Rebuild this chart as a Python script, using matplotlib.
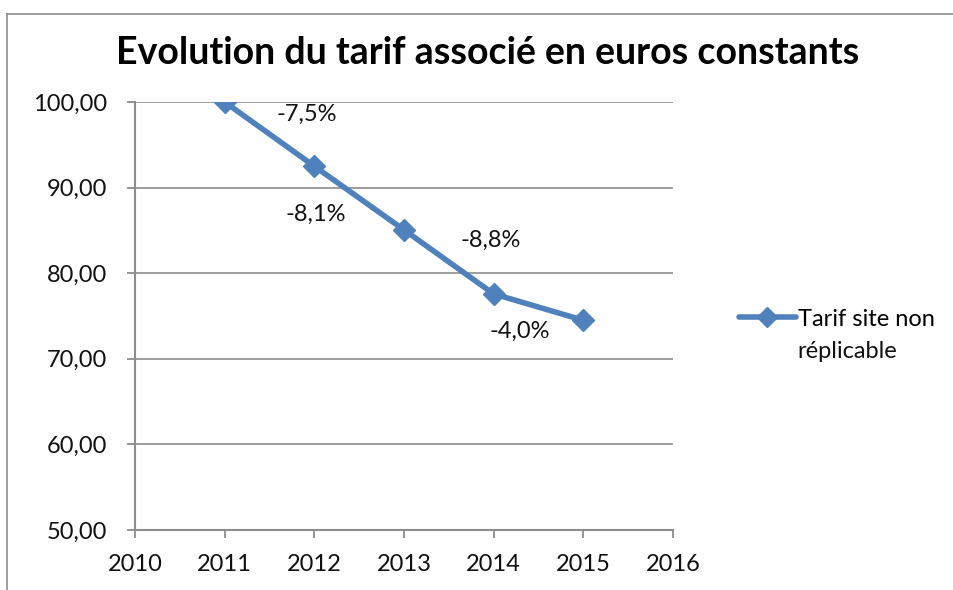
import matplotlib
matplotlib.use("Agg")
import matplotlib.pyplot as plt
from matplotlib.lines import Line2D
from matplotlib.ticker import FuncFormatter

years = [2011, 2012, 2013, 2014, 2015]
values = [100.0, 92.5, 85.06, 77.58, 74.5]
change_labels = ["-7,5%", "-8,1%", "-8,8%", "-4,0%"]
label_x = [2011.92, 2012.02, 2013.97, 2014.29]
label_y = [98.5, 86.9, 83.8, 73.25]
series_name = "Tarif site non réplicable"
title = "Evolution du tarif associé en euros constants"

plt.rcParams['font.family'] = ['Lato', 'DejaVu Sans']

fig = plt.figure(figsize=(9.54, 5.9), dpi=100)
W, H = 954, 590
ax = fig.add_axes([135 / W, 1 - 530 / H, (673 - 135) / W, (530 - 102) / H])

grey = "#8c8c8c"
blue = "#4F81BD"

ax.plot(years, values, color=blue, lw=4, marker="D", markersize=11,
        markerfacecolor=blue, markeredgecolor=blue, label=series_name,
        solid_joinstyle="round", zorder=3)

for t, x, y in zip(change_labels, label_x, label_y):
    ax.text(x, y, t, ha="center", va="center", fontsize=17, color="#111111")

ax.set_xlim(2010, 2016)
ax.set_ylim(50, 100)
ax.set_xticks(range(2010, 2017))
ax.set_yticks(range(50, 101, 10))
ax.yaxis.set_major_formatter(FuncFormatter(lambda v, p: f"{v:.2f}".replace(".", ",")))
ax.grid(axis="y", color=grey, lw=1.2)
ax.set_axisbelow(True)
for s in ["top", "right"]:
    ax.spines[s].set_visible(False)
for s in ["left", "bottom"]:
    ax.spines[s].set_color(grey)
    ax.spines[s].set_linewidth(1.5)
ax.tick_params(axis="both", colors=grey, labelcolor="#111111", labelsize=17,
               length=6, width=1.3, direction="out")
ax.tick_params(axis="x", pad=11)
ax.tick_params(axis="y", pad=14)

fig.text(488 / W, 1 - 53 / H, title, ha="center", va="center",
         fontsize=27, fontweight="bold", color="#000000")

# legend: handle aligned with first line of the series name (wrapped like the original)
first, second = "Tarif site non", "réplicable"
handle = Line2D([], [], color=blue, lw=4, marker="D", markersize=10,
                solid_capstyle="round")
leg = fig.legend([handle], [first], loc="center left",
                 bbox_to_anchor=(739 / W, 1 - 319 / H),
                 frameon=False, fontsize=17, handlelength=2.4,
                 handletextpad=0.1, borderaxespad=0, borderpad=0)
fig.text(797 / W, 1 - 352 / H, second, ha="left", va="center", fontsize=17,
         color="#111111")

fig.add_artist(Line2D([7 / W, 7 / W], [0, 1 - 14 / H], transform=fig.transFigure,
                      color=grey, lw=1.2))
fig.add_artist(Line2D([7 / W, 1], [1 - 14 / H, 1 - 14 / H], transform=fig.transFigure,
                      color=grey, lw=1.2))

fig.savefig("out.png", dpi=100)
